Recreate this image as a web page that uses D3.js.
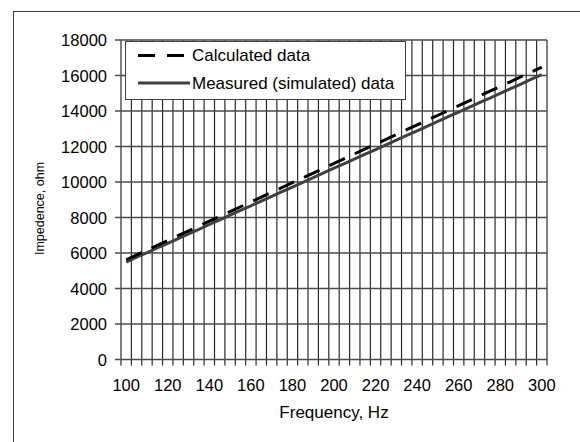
<!DOCTYPE html>
<html>
<head>
<meta charset="utf-8">
<script src="https://cdn.jsdelivr.net/npm/d3@7"></script>
<style>
  body { margin: 0; background: #fff; }
  text { font-family: "Liberation Sans", Arial, sans-serif; fill: #000; }
</style>
</head>
<body>
<script>
// frequency categories, Hz
var freqs = ['100','105','110','115','120','125','130','135','140','145',
             '150','155','160','165','170','175','180','185','190','195',
             '200','205','210','215','220','225','230','235','240','245',
             '250','255','260','265','270','275','280','285','290','295','300']

// impedance values, ohm
var calculated = [5620, 5890, 6160, 6435, 6705, 6975, 7250, 7520, 7790, 8060,
                  8335, 8605, 8875, 9145, 9420, 9690, 9960, 10230, 10500, 10775,
                  11045, 11315, 11590, 11860, 12130, 12400, 12675, 12945, 13215, 13485,
                  13760, 14030, 14300, 14570, 14845, 15115, 15385, 15655, 15930, 16200, 16470]
var measured = [5490, 5760, 6015, 6290, 6545, 6810, 7080, 7335, 7605, 7865,
                8130, 8400, 8660, 8925, 9185, 9455, 9715, 9985, 10245, 10510,
                10780, 11035, 11300, 11570, 11830, 12095, 12360, 12620, 12885, 13150,
                13415, 13680, 13940, 14205, 14475, 14730, 14995, 15260, 15520, 15790, 16050]

var xLabels = ['100','120','140','160','180','200','220','240','260','280','300']
var yTicks = [0, 2000, 4000, 6000, 8000, 10000, 12000, 14000, 16000, 18000]
var legendNames = ['Calculated data', 'Measured (simulated) data']

var W = 580, H = 442
// plot area (note: "top" is taken by window.top, so use other names)
var pLeft = 121, pRight = 547, pTop = 40, pBottom = 359.5

var svg = d3.select("body").append("svg")
  .attr("width", W)
  .attr("height", H)

// outer frame (runs off the picture at right/bottom)
svg.append("rect")
  .attr("x", 13.5).attr("y", 11.5)
  .attr("width", 600).attr("height", 500)
  .attr("fill", "#fff")
  .attr("stroke", "#404040")

var x = d3.scaleBand()
  .domain(freqs)
  .range([pLeft, pRight])
  .paddingInner(0).paddingOuter(0)

var y = d3.scaleLinear()
  .domain([0, 18000])
  .range([pBottom, pTop])

// category boundaries (gridlines + ticks)
var bounds = freqs.map(function(d) { return x(d) }).concat([pRight])

svg.append("g").selectAll("line")
  .data(bounds)
  .enter().append("line")
    .attr("x1", function(d) { return d }).attr("x2", function(d) { return d })
    .attr("y1", pTop).attr("y2", pBottom + 6)
    .attr("stroke", "#2a2a2a")
    .attr("stroke-width", 1.2)

svg.append("g").selectAll("line")
  .data(yTicks)
  .enter().append("line")
    .attr("x1", pLeft - 6).attr("x2", pRight)
    .attr("y1", function(d) { return y(d) }).attr("y2", function(d) { return y(d) })
    .attr("stroke", "#4a4a4a")
    .attr("stroke-width", 1.5)

// y axis labels
svg.append("g")
  .attr("transform", "translate(" + (pLeft - 14) + ",0)")
  .style("font-size", "16.5px")
  .call(d3.axisLeft(y).tickValues(yTicks).tickSize(0).tickFormat(d3.format("d")))
  .call(function(g) { g.select(".domain").remove() })
  .selectAll("text").attr("x", 0).attr("dy", "0.36em")

// x axis labels
svg.append("g")
  .attr("transform", "translate(0," + (pBottom + 20) + ")")
  .style("font-size", "16.5px")
  .call(d3.axisBottom(x).tickValues(xLabels).tickSize(0))
  .call(function(g) { g.select(".domain").remove() })
  .selectAll("text").attr("y", 0).attr("dy", "0.71em")

svg.selectAll(".tick text").attr("fill", "#000")

// the two lines
var line = d3.line()
  .x(function(d, i) { return x(freqs[i]) + x.bandwidth() / 2 })
  .y(function(d) { return y(d) })

svg.append("path")
  .datum(measured)
  .attr("d", line)
  .attr("fill", "none")
  .attr("stroke", "#404040")
  .attr("stroke-width", 3)

svg.append("path")
  .datum(calculated)
  .attr("d", line)
  .attr("fill", "none")
  .attr("stroke", "#000")
  .attr("stroke-width", 3)
  .attr("stroke-dasharray", "17,11")

// legend
var lg = svg.append("g")
lg.append("rect")
  .attr("x", 125.5).attr("y", 41.5)
  .attr("width", 280).attr("height", 58)
  .attr("fill", "#fff")
  .attr("stroke", "#404040")

var legendStyles = [{c: "#000", dash: "17,12"}, {c: "#404040", dash: null}]
legendNames.forEach(function(name, i) {
  var ly = 55.5 + i * 27.5
  lg.append("line")
    .attr("x1", 138).attr("x2", 190)
    .attr("y1", ly).attr("y2", ly)
    .attr("stroke", legendStyles[i].c)
    .attr("stroke-width", 3)
    .attr("stroke-dasharray", legendStyles[i].dash)
  lg.append("text")
    .attr("x", 192).attr("y", ly)
    .attr("dy", "0.35em")
    .style("font-size", "17px")
    .text(name)
})

// axis titles
svg.append("text")
  .attr("x", (pLeft + pRight) / 2)
  .attr("y", 418)
  .attr("text-anchor", "middle")
  .style("font-size", "17px")
  .text("Frequency, Hz")

svg.append("g")
  .attr("transform", "translate(44,208.5)")
  .append("text")
  .attr("text-anchor", "middle")
  .attr("transform", "rotate(-90)")
  .style("font-size", "12.5px")
  .text("Impedence, ohm")
</script>
</body>
</html>
